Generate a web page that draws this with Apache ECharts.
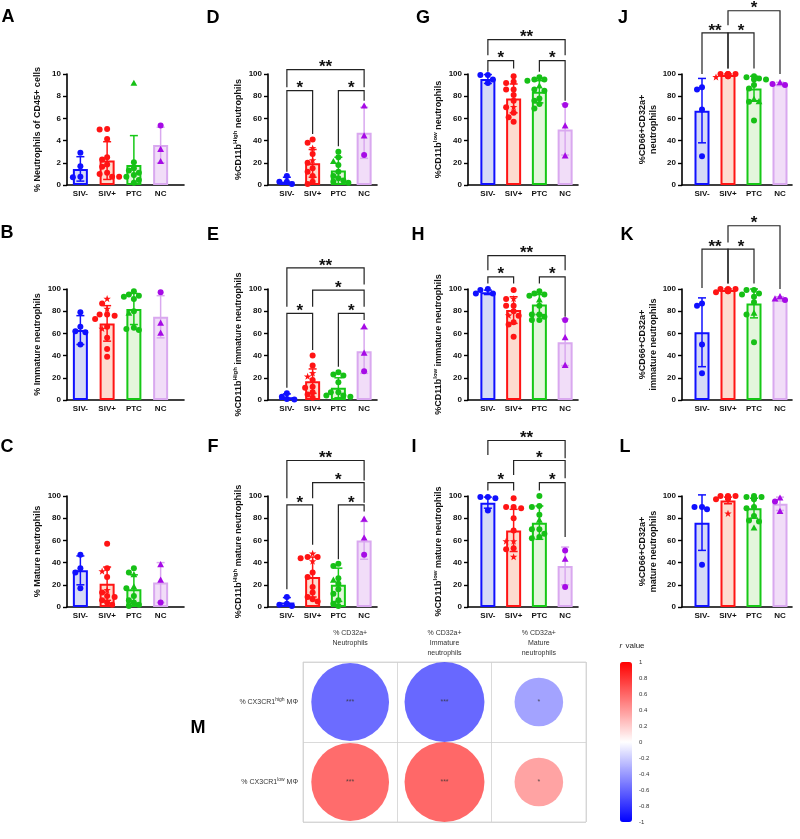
<!DOCTYPE html>
<html><head><meta charset="utf-8">
<script src="https://cdn.jsdelivr.net/npm/echarts@6.0.0/dist/echarts.min.js"></script>
<style>html,body{margin:0;padding:0;background:#fff}#c{width:800px;height:839px}</style>
</head><body><div id="c"></div>
<script>
const categories = ['SIV-', 'SIV+', 'PTC', 'NC'];

// ---- Panel A ----
const meanA = [1.45, 2.2, 1.8, 3.6];
const sdA = [1.1, 1.7, 2.65, 1.6];
const ptsA = [[2.9, 1.7, 0.7, 0.75], [5.0, 5.05, 4.15, 2.5, 2.3, 1.85, 1.65, 1.1, 1.0, 0.75, 0.75], [9.15, 2.05, 1.5, 1.3, 1.1, 0.9, 0.75, 0.45, 0.2], [5.35, 3.2, 2.1]];
const triA = [[], [], [0], [1, 2]];
const starA = [[], [], [], []];
const brA = [];
// ---- Panel B ----
const meanB = [63, 69, 82, 75];
const sdB = [13, 16, 14, 19];
const ptsB = [[79, 66, 62, 61, 50], [91, 87, 82, 77, 77, 76, 73, 66, 64, 56, 46, 39], [98, 95, 94, 93, 91, 80, 78, 65, 64, 63], [97, 69, 60]];
const triB = [[], [], [6], [1, 2]];
const starB = [[], [0, 2, 8], [], []];
const brB = [];
// ---- Panel C ----
const meanC = [33, 21, 16, 22];
const sdC = [13, 15, 13, 18];
const ptsC = [[47, 35, 31, 17], [57, 35, 32, 27, 15, 13, 10, 9, 6, 4, 2], [35, 31, 29, 18, 17, 10, 6, 4, 2, 1], [38, 24, 4]];
const triC = [[], [], [2, 3], [0, 1]];
const starC = [[], [2, 4], [], []];
const brC = [];
// ---- Panel D ----
const meanD = [3, 19.5, 13, 47];
const sdD = [4, 12.5, 12, 23];
const ptsD = [[8, 3, 3, 1], [41, 38, 33, 28, 22, 20, 15, 12, 8, 3, 1], [30, 25, 21, 18, 12, 8, 6, 4, 3, 2], [71, 44, 27]];
const triD = [[], [], [2], [0, 1]];
const starD = [[], [2, 4], [], []];
const brD = [[0, 3, 104, 88, 88, '**'], [0, 1, 85, 12, 46, '*'], [2, 3, 85, 35, 76, '*']];
// ---- Panel E ----
const meanE = [2.5, 17, 11, 44];
const sdE = [3, 11, 9, 20];
const ptsE = [[6, 3, 1, 0.5], [40, 31, 24, 21, 18, 12, 11, 7, 5, 2], [25, 23, 22, 16, 7, 7, 4, 4, 3], [66, 42, 26]];
const triE = [[], [], [], [0, 1]];
const starE = [[], [2, 3], [], []];
const brE = [[0, 3, 119, 84, 104, '**'], [1, 3, 99, 84, 84, '*'], [0, 1, 78, 11, 45, '*'], [2, 3, 78, 30, 72, '*']];
// ---- Panel F ----
const meanF = [4, 27, 20, 60];
const sdF = [4.5, 18, 15, 17];
const ptsF = [[9, 3, 2, 1], [48, 45, 45, 44, 41, 31, 27, 18, 13, 9, 7, 5], [39, 37, 26, 24, 21, 16, 12, 6, 3, 1], [79, 62, 47]];
const triF = [[], [], [3], [0, 1]];
const starF = [[], [0, 4], [], []];
const brF = [[0, 3, 132, 98, 114, '**'], [1, 3, 112, 98, 94, '*'], [0, 1, 92, 16, 56, '*'], [2, 3, 92, 43, 86, '*']];
// ---- Panel G ----
const meanG = [95.5, 78, 84, 50];
const sdG = [4, 13, 10, 23];
const ptsG = [[99, 99, 95, 92], [98, 93, 92, 86, 86, 81, 76, 70, 70, 65, 61, 57], [97, 95, 95, 94, 89, 86, 85, 78, 76, 73, 69], [72, 53, 26]];
const triG = [[], [], [4], [1, 2]];
const starG = [[], [7], [], []];
const brG = [[0, 3, 131, 117, 117, '**'], [0, 1, 112, 102, 105, '*'], [2, 3, 112, 102, 76, '*']];
// ---- Panel H ----
const meanH = [97, 81, 86, 52];
const sdH = [2, 12, 9, 21];
const ptsH = [[100, 99, 96, 96], [99, 91, 91, 85, 85, 80, 76, 76, 70, 68, 57], [98, 96, 95, 94, 90, 85, 77, 77, 75, 72, 72], [72, 56, 31]];
const triH = [[], [], [4], [1, 2]];
const starH = [[], [1, 6], [], []];
const brH = [[0, 3, 130, 117, 117, '**'], [0, 1, 111, 105, 105, '*'], [2, 3, 111, 105, 75, '*']];
// ---- Panel I ----
const meanI = [94, 69, 76, 37];
const sdI = [5, 19, 15, 17];
const ptsI = [[99, 99, 98, 87], [98, 90, 90, 89, 80, 69, 59, 59, 53, 52, 45], [100, 91, 90, 83, 78, 70, 70, 66, 63, 62], [51, 43, 18]];
const triI = [[], [], [4], [1]];
const starI = [[], [6, 7, 10], [], []];
const brI = [[0, 3, 150, 137, 134, '**'], [1, 3, 132, 119, 116, '*'], [0, 1, 112, 105, 105, '*'], [2, 3, 112, 105, 63, '*']];
// ---- Panel J ----
const meanJ = [67, 99, 87, 91];
const sdJ = [29, 1, 11, 1.5];
const ptsJ = [[88, 86, 68, 26], [100, 100, 100, 100, 99, 99, 99, 99, 98, 98, 97], [98, 97, 96, 95, 95, 90, 87, 77, 75, 75, 58], [92, 91, 90]];
const triJ = [[], [], [7, 9], [0]];
const starJ = [[], [10], [], []];
const brJ = [[0, 1, 137, 100, 105, '**'], [1, 2, 137, 105, 105, '*'], [1, 3, 157, 144, 100, '*']];
// ---- Panel K ----
const meanK = [61, 99, 87, 91];
const sdK = [31, 1, 13, 2];
const ptsK = [[87, 85, 50, 24], [100, 100, 100, 99, 99, 99, 99, 98, 98, 97], [99, 99, 96, 95, 93, 88, 78, 77, 52], [93, 91, 90]];
const triK = [[], [], [6], [0, 1]];
const starK = [[], [], [], []];
const brK = [[0, 1, 136, 101, 105, '**'], [1, 2, 136, 105, 105, '*'], [1, 3, 157, 142, 100, '*']];
// ---- Panel L ----
const meanL = [76, 96, 89, 93];
const sdL = [25, 3, 9, 6];
const ptsL = [[90, 90, 88, 38], [100, 100, 100, 99, 99, 99, 98, 98, 98, 97, 84], [100, 99, 99, 98, 97, 90, 89, 82, 78, 77, 71], [98, 95, 86]];
const triL = [[], [], [10], [0, 2]];
const starL = [[], [10], [], []];
const brL = [];

const yTitles = [
  '% Neutrophils of CD45+ cells', '% Immature neutrophils', '% Mature neutrophils',
  '{n|%CD11b}{s|High}{n| neutrophils}', '{n|%CD11b}{s|High}{n| immature neutrophils}', '{n|%CD11b}{s|High}{n| mature neutrophils}',
  '{n|%CD11b}{s|low}{n| neutrophils}', '{n|%CD11b}{s|low}{n| immature neutrophils}', '{n|%CD11b}{s|low}{n| mature neutrophils}',
  '%CD66+CD32a+\nneutrophils', '%CD66+CD32a+\nimmature neutrophils', '%CD66+CD32a+\nmature neutrophils'
];
const panelLetters = ['A', 'B', 'C', 'D', 'E', 'F', 'G', 'H', 'I', 'J', 'K', 'L', 'M'];
const yMax = [10, 100, 100, 100, 100, 100, 100, 100, 100, 100, 100, 100];
const yInterval = [2, 20, 20, 20, 20, 20, 20, 20, 20, 20, 20, 20];

// ---- Panel M ----
const mCols = ['% CD32a+\nNeutrophils', '% CD32a+\nImmature\nneutrophils', '% CD32a+\nMature\nneutrophils'];
const mRows = ['high', 'low'];
const rHigh = [-0.72, -0.74, -0.45];
const rLow = [0.72, 0.74, 0.45];
const sigHigh = ['***', '***', '*'];
const sigLow = ['***', '***', '*'];

// ---- layout / style ----
const FONT = "'Liberation Sans', Arial, sans-serif";
const colLayout = [
  { axisX: 67, left: 67, width: 107, right: 184, nameGap: 24 },
  { axisX: 268, left: 274, width: 103, right: 377, nameGap: 21 },
  { axisX: 468, left: 475, width: 103, right: 578, nameGap: 21 },
  { axisX: 682, left: 689, width: 104, right: 792, nameGap: 17 }
];
const rowTops = [74, 289, 496];
const plotH = 111;
const mBox = { left: 303, top: 662, width: 283, height: 160, headerTop: 628, sizeK: 108 };
const letterPos = [[8, 17], [7, 233], [7, 447], [213, 18], [213, 235], [213, 447], [423, 18], [418, 235], [414, 447], [623, 18], [627, 235], [625, 447], [198, 728]];
const fills = ['#d6daf6', '#fddccf', '#e4f6dc', '#f1ddf8'];
const borders = ['#1010ff', '#ff1414', '#16c816', '#d9a8ef'];
const errCols = ['#1010ff', '#ff1414', '#16c816', '#d9a8ef'];
const dotCols = ['#1010ff', '#ff1414', '#16c016', '#a60ae6'];

const panels = [
  [meanA, sdA, ptsA, triA, starA, brA], [meanB, sdB, ptsB, triB, starB, brB], [meanC, sdC, ptsC, triC, starC, brC],
  [meanD, sdD, ptsD, triD, starD, brD], [meanE, sdE, ptsE, triE, starE, brE], [meanF, sdF, ptsF, triF, starF, brF],
  [meanG, sdG, ptsG, triG, starG, brG], [meanH, sdH, ptsH, triH, starH, brH], [meanI, sdI, ptsI, triI, starI, brI],
  [meanJ, sdJ, ptsJ, triJ, starJ, brJ], [meanK, sdK, ptsK, triK, starK, brK], [meanL, sdL, ptsL, triL, starL, brL]
];

function swarm(vals, pxPerUnit) {
  const order = vals.map((v, i) => i).sort((a, b) => vals[b] - vals[a]);
  const placed = [], off = new Array(vals.length).fill(0);
  const cands = [0, -5, 5, -2.5, 2.5, -7.5, 7.5, -10, 10, -12, 12];
  order.forEach(i => {
    const y = vals[i] * pxPerUnit;
    for (const c of cands) {
      if (placed.every(p => Math.hypot(p[0] - c, p[1] - y) >= 5.3)) { off[i] = c; placed.push([c, y]); return; }
    }
    off[i] = 0; placed.push([0, y]);
  });
  return off;
}

const grids = [], xAxes = [], yAxes = [], series = [];
const tickFont = { fontSize: 8, fontWeight: 'bold', color: '#111', fontFamily: FONT };

panels.forEach((P, k) => {
  const [mean, sd, pts, tri, star, br] = P;
  const col = Math.floor(k / 3), row = k % 3;
  const L = colLayout[col], top = rowTops[row];
  const max = yMax[k];
  const gA = grids.length;
  grids.push({ left: L.axisX, top, width: L.right - L.axisX, height: plotH, outerBoundsMode: 'none' });
  xAxes.push({ gridIndex: gA, type: 'value', min: 0, max: 1, axisLine: { show: true, lineStyle: { color: '#000', width: 1.6 } }, axisTick: { show: false }, axisLabel: { show: false }, splitLine: { show: false } });
  yAxes.push({
    gridIndex: gA, type: 'value', min: 0, max, interval: yInterval[k],
    axisLine: { show: true, lineStyle: { color: '#000', width: 1.6 } },
    axisTick: { show: true, length: 4, lineStyle: { color: '#000', width: 1.4 } },
    axisLabel: Object.assign({ margin: 6 }, tickFont),
    splitLine: { show: false },
    name: yTitles[k], nameLocation: 'middle', nameRotate: 90, nameGap: L.nameGap,
    nameTextStyle: {
      fontSize: 9, fontWeight: 'bold', color: '#111', fontFamily: FONT, lineHeight: 11,
      rich: {
        n: { fontSize: 9, fontWeight: 'bold', color: '#111', fontFamily: FONT, lineHeight: 12 },
        s: { fontSize: 6, fontWeight: 'bold', color: '#111', fontFamily: FONT, lineHeight: 6, verticalAlign: 'top' }
      }
    }
  });
  const gP = grids.length;
  grids.push({ left: L.left, top, width: L.width, height: plotH, outerBoundsMode: 'none' });
  xAxes.push({ gridIndex: gP, type: 'category', data: categories, axisLine: { show: false }, axisTick: { show: false }, axisLabel: Object.assign({ margin: 5, interval: 0 }, tickFont) });
  yAxes.push({ gridIndex: gP, type: 'value', min: 0, max, show: false });
  const xi = xAxes.length - 1, yi = yAxes.length - 1;

  series.push({
    type: 'bar', xAxisIndex: xi, yAxisIndex: yi, barWidth: 15, z: 2, silent: true, animation: false,
    data: mean.map((m, i) => ({ value: m, itemStyle: { color: fills[i], borderColor: borders[i], borderWidth: 2 } }))
  });
  series.push({
    type: 'custom', xAxisIndex: xi, yAxisIndex: yi, z: 3, silent: true, animation: false, clip: false,
    data: mean.map((m, i) => [i, m, sd[i]]),
    renderItem(params, api) {
      const g = api.value(0), m = api.value(1), s = api.value(2);
      const t = api.coord([g, m + s]), b = api.coord([g, Math.max(0, m - s)]);
      const x = t[0], w = 4;
      const st = { stroke: errCols[g], lineWidth: 1.5 };
      const ch = [
        { type: 'line', shape: { x1: x, y1: t[1], x2: x, y2: b[1] }, style: st },
        { type: 'line', shape: { x1: x - w, y1: t[1], x2: x + w, y2: t[1] }, style: st }
      ];
      if (m - s > 0) ch.push({ type: 'line', shape: { x1: x - w, y1: b[1], x2: x + w, y2: b[1] }, style: st });
      return { type: 'group', children: ch };
    }
  });
  const ptData = [], ptMeta = [];
  pts.forEach((arr, g) => {
    const off = swarm(arr, plotH / max);
    arr.forEach((v, j) => {
      ptData.push([g, v]);
      ptMeta.push({ off: off[j], shape: tri[g].includes(j) ? 't' : (star[g].includes(j) ? 's' : 'o') });
    });
  });
  series.push({
    type: 'custom', xAxisIndex: xi, yAxisIndex: yi, z: 4, silent: true, animation: false, clip: false,
    data: ptData,
    renderItem(params, api) {
      const g = api.value(0), v = api.value(1);
      const meta = ptMeta[params.dataIndex];
      const c = api.coord([g, v]);
      const x = c[0] + meta.off, y = c[1];
      const fill = dotCols[g];
      if (meta.shape === 't') {
        return { type: 'polygon', shape: { points: [[x, y - 3.8], [x - 3.4, y + 2.4], [x + 3.4, y + 2.4]] }, style: { fill } };
      }
      if (meta.shape === 's') {
        const p = [];
        for (let q = 0; q < 10; q++) {
          const r = q % 2 === 0 ? 3.9 : 1.6, a = -Math.PI / 2 + q * Math.PI / 5;
          p.push([x + r * Math.cos(a), y + r * Math.sin(a)]);
        }
        return { type: 'polygon', shape: { points: p }, style: { fill } };
      }
      return { type: 'circle', shape: { cx: x, cy: y, r: 3 }, style: { fill } };
    }
  });
  if (br.length) {
    series.push({
      type: 'custom', xAxisIndex: xi, yAxisIndex: yi, z: 3, silent: true, animation: false, clip: false,
      data: br.map(b => [b[0], b[2]]),
      renderItem(params, api) {
        const b = br[params.dataIndex];
        const pa = api.coord([b[0], b[2]]), pb = api.coord([b[1], b[2]]);
        const la = api.coord([b[0], b[3]]), lb = api.coord([b[1], b[4]]);
        return {
          type: 'group', children: [
            { type: 'polyline', shape: { points: [[pa[0], la[1]], [pa[0], pa[1]], [pb[0], pb[1]], [pb[0], lb[1]]] }, style: { stroke: '#222', lineWidth: 1.2, fill: null } },
            { type: 'text', x: (pa[0] + pb[0]) / 2, y: pa[1] - 2, style: { text: b[5], align: 'center', verticalAlign: 'middle', font: 'bold 17px ' + FONT, fill: '#111' } }
          ]
        };
      }
    });
  }
});

// ---- Panel M grid ----
const gM = grids.length;
grids.push({ left: mBox.left, top: mBox.top, width: mBox.width, height: mBox.height, show: true, borderColor: '#d0d0d0', borderWidth: 0.8, backgroundColor: 'transparent', outerBoundsMode: 'none' });
xAxes.push({
  gridIndex: gM, type: 'category', position: 'top', data: mCols,
  axisLine: { show: false }, axisTick: { show: false },
  axisLabel: { interval: 0, margin: mBox.top - mBox.headerTop, verticalAlign: 'top', fontSize: 7, lineHeight: 10, color: '#333', fontFamily: FONT },
  splitLine: { show: true, lineStyle: { color: '#d0d0d0', width: 0.8 } }
});
yAxes.push({
  gridIndex: gM, type: 'category', inverse: true, data: mRows,
  axisLine: { show: false }, axisTick: { show: false },
  axisLabel: {
    interval: 0, margin: 5, color: '#333', fontFamily: FONT, fontSize: 7,
    formatter: (v) => '{a|% CX3CR1}{s|' + v + '}{a| MΦ}',
    rich: { a: { fontSize: 7, color: '#333', fontFamily: FONT, lineHeight: 10 }, s: { fontSize: 5, color: '#333', fontFamily: FONT, lineHeight: 5, verticalAlign: 'top' } }
  },
  splitLine: { show: true, lineStyle: { color: '#d0d0d0', width: 0.8 } }
});
const mData = [];
rHigh.forEach((r, c) => mData.push({ value: [c, 0, r], label: { formatter: sigHigh[c] } }));
rLow.forEach((r, c) => mData.push({ value: [c, 1, r], label: { formatter: sigLow[c] } }));
const mSeriesIndex = series.length;
series.push({
  type: 'scatter', xAxisIndex: xAxes.length - 1, yAxisIndex: yAxes.length - 1, silent: true, animation: false,
  symbol: 'circle', symbolSize: (val) => Math.abs(val[2]) * mBox.sizeK,
  data: mData,
  label: { show: true, position: 'inside', fontSize: 7, color: '#333', fontFamily: FONT }
});
// colour bar axis
const gCB = grids.length;
grids.push({ left: 620, top: mBox.top, width: 12, height: mBox.height, outerBoundsMode: 'none' });
xAxes.push({ gridIndex: gCB, type: 'value', show: false, min: 0, max: 1 });
yAxes.push({
  gridIndex: gCB, type: 'value', position: 'right', min: -1, max: 1, interval: 0.2,
  axisLine: { show: false }, axisTick: { show: false }, splitLine: { show: false },
  axisLabel: { margin: 7, fontSize: 6, color: '#333', fontFamily: FONT, formatter: v => String(+v.toFixed(1)) }
});

const graphics = panelLetters.map((t, i) => ({
  type: 'text', x: letterPos[i][0], y: letterPos[i][1], silent: true,
  style: { text: t, align: 'center', verticalAlign: 'middle', textAlign: 'center', textVerticalAlign: 'middle', font: 'bold 18px ' + FONT, fill: '#000' }
}));
graphics.push({
  type: 'text', x: 632, y: mBox.top - 16, silent: true,
  style: {
    text: '{i|r} {n|value}', align: 'center', verticalAlign: 'middle', textAlign: 'center', textVerticalAlign: 'middle',
    rich: { i: { fontStyle: 'italic', fontSize: 8, fontFamily: FONT, fill: '#222' }, n: { fontSize: 8, fontFamily: FONT, fill: '#222' } }
  }
});

const chart = echarts.init(document.getElementById('c'), null, { renderer: 'canvas' });
chart.setOption({
  animation: false,
  backgroundColor: '#fff',
  textStyle: { fontFamily: FONT },
  grid: grids, xAxis: xAxes, yAxis: yAxes, series,
  visualMap: {
    type: 'continuous', min: -1, max: 1, seriesIndex: mSeriesIndex, dimension: 2,
    inRange: { color: ['#0000ff', '#ffffff', '#ff0000'] },
    orient: 'vertical', left: 615, top: mBox.top - 5, itemWidth: 12, itemHeight: mBox.height,
    calculable: false, showLabel: false, text: null, padding: 5
  },
  graphic: graphics
});
</script></body></html>
